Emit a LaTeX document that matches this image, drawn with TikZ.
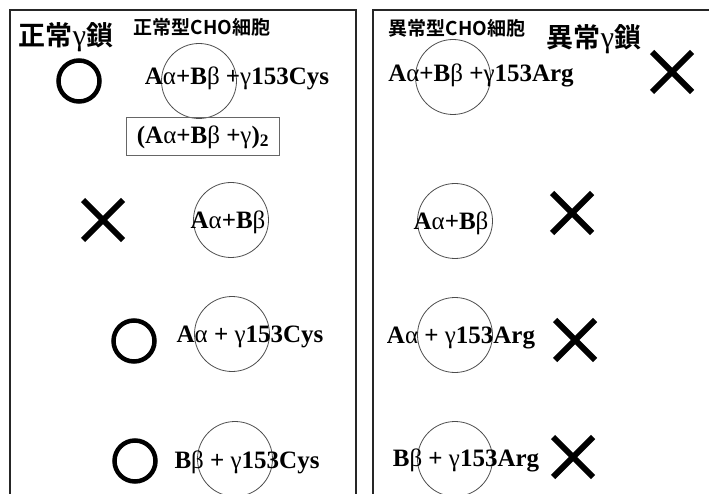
\documentclass[tikz,border=0pt]{standalone}
\usepackage{fontspec}
\setmainfont{Liberation Serif}
\newfontfamily\jpfont{Noto Sans CJK JP}[BoldFont={* Bold}]
\newcommand{\ga}{{\mdseries α}}
\newcommand{\gb}{{\mdseries β}}
\newcommand{\gc}{{\mdseries γ}}
\begin{document}
\begin{tikzpicture}[x=1pt,y=-1pt,
  frame/.style={line width=1.8pt,draw=black!85},
  cell/.style={draw=black!70,line width=0.8pt,circle,minimum size=75pt,inner sep=0pt},
  okmark/.style={draw=black,line width=4.5pt,circle,minimum size=41pt,inner sep=0pt},
  ngmark/.style={draw=black,line width=6pt},
  formula/.style={font=\fontsize{25}{28}\selectfont\bfseries,inner sep=0pt},
  bigtitle/.style={font=\jpfont\bfseries\fontsize{27}{29}\selectfont,inner sep=0pt},
  subtitle/.style={font=\jpfont\bfseries\fontsize{19}{21}\selectfont,inner sep=0pt},
  dimerbox/.style={draw=black!60,line width=0.9pt,minimum width=153pt,minimum height=38pt,inner sep=0pt}
]
\useasboundingbox (0,0) rectangle (709,494);
\clip (0,0) rectangle (709,494);
% frames
\coordinate (lb) at (10,500);
\coordinate (lt) at (10,10);
\coordinate (rt) at (356,10);
\coordinate (rb) at (356,500);
\draw[frame] (lb) -- (lt) -- (rt) -- (rb);
\coordinate (lb2) at (373,500);
\coordinate (lt2) at (373,10);
\coordinate (rt2) at (712,10);
\draw[frame] (lb2) -- (lt2) -- (rt2);
% titles
\node[bigtitle] (tl) at (66,37) {正常\textrm{\mdseries\fontsize{30}{30}\selectfont γ}鎖};
\node[subtitle] (sl) at (202,27) {正常型CHO細胞};
\node[subtitle] (sr) at (457,28) {異常型CHO細胞};
\node[bigtitle] (tr) at (594,39) {異常\textrm{\mdseries\fontsize{30}{30}\selectfont γ}鎖};
% left column
\node[cell] (c1) at (199,81) {};
\node[formula] (f1) at (237,78) {A\ga+B\gb\ +\gc153Cys};
\node[okmark] (o1) at (79,81) {};
\node[dimerbox] (d1) at (203,136) {};
\node[formula] (f1b) at (203,137) {(A\ga+B\gb\ +\gc)\textsubscript{2}};
\node[cell] (c2) at (231,220) {};
\node[formula] (f2) at (228,222) {A\ga+B\gb};
\coordinate (x2a) at (83,200); \coordinate (x2b) at (123,240);
\coordinate (x2c) at (83,240); \coordinate (x2d) at (123,200);
\draw[ngmark] (x2a) -- (x2b) (x2c) -- (x2d);
\node[cell] (c3) at (232,334) {};
\node[formula] (f3) at (250,337) {A\ga\ + \gc153Cys};
\node[okmark] (o3) at (134,341) {};
\node[cell] (c4) at (235,459) {};
\node[formula] (f4) at (247,462) {B\gb\ + \gc153Cys};
\node[okmark] (o4) at (135,461) {};
% right column
\node[cell] (c5) at (453,77) {};
\node[formula] (f5) at (481,75) {A\ga+B\gb\ +\gc153Arg};
\coordinate (x5a) at (652,52); \coordinate (x5b) at (692,92);
\coordinate (x5c) at (652,92); \coordinate (x5d) at (692,52);
\draw[ngmark] (x5a) -- (x5b) (x5c) -- (x5d);
\node[cell] (c6) at (455,221) {};
\node[formula] (f6) at (451,223) {A\ga+B\gb};
\coordinate (x6a) at (552,193); \coordinate (x6b) at (592,233);
\coordinate (x6c) at (552,233); \coordinate (x6d) at (592,193);
\draw[ngmark] (x6a) -- (x6b) (x6c) -- (x6d);
\node[cell] (c7) at (455,335) {};
\node[formula] (f7) at (461,338) {A\ga\ + \gc153Arg};
\coordinate (x7a) at (555,320); \coordinate (x7b) at (595,360);
\coordinate (x7c) at (555,360); \coordinate (x7d) at (595,320);
\draw[ngmark] (x7a) -- (x7b) (x7c) -- (x7d);
\node[cell] (c8) at (455,459) {};
\node[formula] (f8) at (466,460) {B\gb\ + \gc153Arg};
\coordinate (x8a) at (553,437); \coordinate (x8b) at (593,477);
\coordinate (x8c) at (553,477); \coordinate (x8d) at (593,437);
\draw[ngmark] (x8a) -- (x8b) (x8c) -- (x8d);
\end{tikzpicture}
\end{document}
